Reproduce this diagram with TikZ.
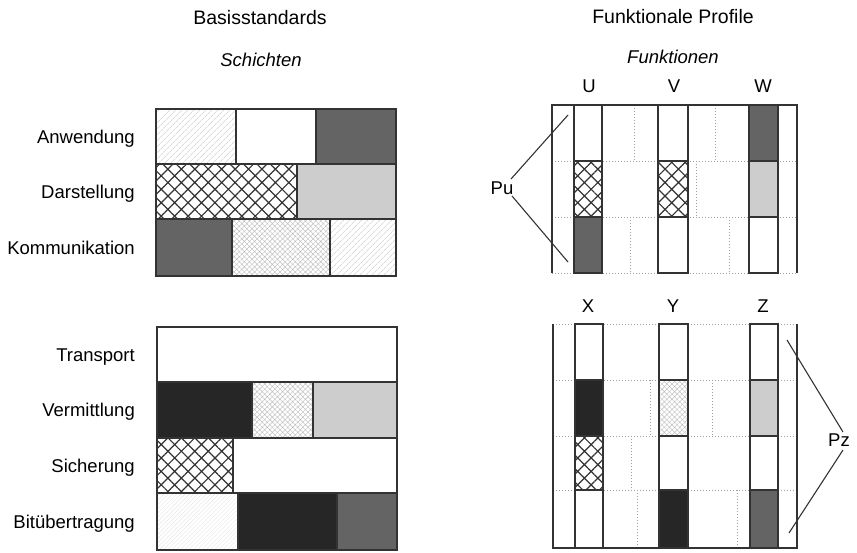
\documentclass[tikz,border=0pt]{standalone}
\usepackage{fontspec}
\setmainfont{Liberation Sans}
\usetikzlibrary{patterns.meta}
\definecolor{ln}{HTML}{333333}
\definecolor{dk}{HTML}{646464}
\definecolor{lg}{HTML}{CDCDCD}
\definecolor{bk}{HTML}{262626}
\tikzset{
  cell/.style={draw=ln, line width=1.3pt},
  wh/.style={cell, fill=white},
  dkc/.style={cell, fill=dk},
  lgc/.style={cell, fill=lg},
  bkc/.style={cell, fill=bk},
  xh/.style={cell, pattern={Hatch[angle=45,distance=9.5pt,line width=1.2pt]}, pattern color=ln},
  fx/.style={cell, pattern={Hatch[angle=45,distance=3.6pt,line width=0.45pt]}, pattern color=gray!50},
  lh/.style={cell, pattern={Lines[angle=45,distance=4pt,line width=0.55pt]}, pattern color=gray!45},
  fa/.style={cell, pattern={Lines[angle=45,distance=3pt,line width=0.4pt]}, pattern color=gray!20},
  dotl/.style={draw=gray!75, line width=0.8pt, dash pattern=on 0.8pt off 2.2pt},
  edge/.style={draw=ln, line width=1.3pt},
  conn/.style={draw=ln, line width=1.1pt},
  lab/.style={font=\fontsize{18.5}{20}\selectfont, anchor=base east, inner sep=0pt},
  ttl/.style={font=\fontsize{19.5}{21}\selectfont, anchor=base, inner sep=0pt},
  sub/.style={font=\fontsize{18.5}{20}\selectfont\itshape, anchor=base, inner sep=0pt},
  col/.style={font=\fontsize{18.5}{20}\selectfont, anchor=base, inner sep=0pt},
}
\begin{document}
\begin{tikzpicture}[x=1pt,y=-1pt]
\useasboundingbox (0,0) rectangle (857,552);
% titles
\node[ttl] (t1) at (260,24) {Basisstandards};
\node[sub] (s1) at (261,66) {Schichten};
\node[ttl] (t2) at (673,23) {Funktionale Profile};
\node[sub] (s2) at (673,63) {Funktionen};
% layer labels
\node[lab] (l1) at (135,143) {Anwendung};
\node[lab] (l2) at (135,198) {Darstellung};
\node[lab] (l3) at (135,254) {Kommunikation};
\node[lab] (l4) at (135,361) {Transport};
\node[lab] (l5) at (135,416.5) {Vermittlung};
\node[lab] (l6) at (135,472) {Sicherung};
\node[lab] (l7) at (135,528) {Bitübertragung};
% left top block
\path[lh]  (156,109) rectangle (236,164);
\path[wh]  (236,109) rectangle (316,164);
\path[dkc] (316,109) rectangle (396,164);
\path[xh]  (156,164) rectangle (297,219);
\path[lgc] (297,164) rectangle (396,219);
\path[dkc] (156,219) rectangle (232,276);
\path[fx]  (232,219) rectangle (330,276);
\path[lh]  (330,219) rectangle (396,276);
% left bottom block
\path[wh]  (157,327) rectangle (397,382);
\path[bkc] (157,382) rectangle (252,438);
\path[fx]  (252,382) rectangle (313,438);
\path[lgc] (313,382) rectangle (397,438);
\path[xh]  (157,438) rectangle (233,493);
\path[wh]  (233,438) rectangle (397,493);
\path[fa]  (157,493) rectangle (238,550);
\path[bkc] (238,493) rectangle (337,550);
\path[dkc] (337,493) rectangle (397,550);
% right top box
\path[dotl] (552,161) -- (797,161);
\path[dotl] (552,217) -- (797,217);
\path[dotl] (552,273) -- (797,273);
\path[dotl] (634,105) -- (634,161);
\path[dotl] (715,105) -- (715,161);
\path[dotl] (696,161) -- (696,217);
\path[dotl] (630,217) -- (630,273);
\path[dotl] (729,217) -- (729,273);
\path[edge] (552,273) -- (552,105) -- (797,105) -- (797,273);
\node[col] (cu) at (589,92) {U};
\node[col] (cv) at (674,92) {V};
\node[col] (cw) at (763,92) {W};
\path[wh]  (574,105) rectangle (602,161);
\path[xh]  (574,161) rectangle (602,217);
\path[dkc] (574,217) rectangle (602,273);
\path[wh]  (658,105) rectangle (688,161);
\path[xh]  (658,161) rectangle (688,217);
\path[wh]  (658,217) rectangle (688,273);
\path[dkc] (749,105) rectangle (778,161);
\path[lgc] (749,161) rectangle (778,217);
\path[wh]  (749,217) rectangle (778,273);
% right bottom box
\path[dotl] (553,324) -- (797,324);
\path[dotl] (553,380) -- (797,380);
\path[dotl] (553,436) -- (797,436);
\path[dotl] (553,490) -- (797,490);
\path[dotl] (650,380) -- (650,436);
\path[dotl] (712,380) -- (712,436);
\path[dotl] (631,436) -- (631,490);
\path[dotl] (637,490) -- (637,548);
\path[dotl] (737,490) -- (737,548);
\path[edge] (553,324) -- (553,548) -- (797,548) -- (797,324);
\node[col] (cx) at (588,312) {X};
\node[col] (cy) at (673,312) {Y};
\node[col] (cz) at (763,312) {Z};
\path[wh]  (575,324) rectangle (603,380);
\path[bkc] (575,380) rectangle (603,436);
\path[xh]  (575,436) rectangle (603,490);
\path[wh]  (575,490) rectangle (603,548);
\path[wh]  (659,324) rectangle (688,380);
\path[fx]  (659,380) rectangle (688,436);
\path[wh]  (659,436) rectangle (688,490);
\path[bkc] (659,490) rectangle (688,548);
\path[wh]  (750,324) rectangle (778,380);
\path[lgc] (750,380) rectangle (778,436);
\path[wh]  (750,436) rectangle (778,490);
\path[dkc] (750,490) rectangle (778,548);
% Pu / Pz
\node[col] (pu) at (502,194) {Pu};
\node[col] (pz) at (839,446) {Pz};
\coordinate (pua) at (511,179);
\coordinate (pub) at (568,115);
\coordinate (puc) at (512,196);
\coordinate (pud) at (568,262);
\coordinate (pza) at (843,432);
\coordinate (pzb) at (787,340);
\coordinate (pzc) at (843,450);
\coordinate (pzd) at (789,533);
\path[conn] (pua) -- (pub);
\path[conn] (puc) -- (pud);
\path[conn] (pza) -- (pzb);
\path[conn] (pzc) -- (pzd);
\end{tikzpicture}
\end{document}
